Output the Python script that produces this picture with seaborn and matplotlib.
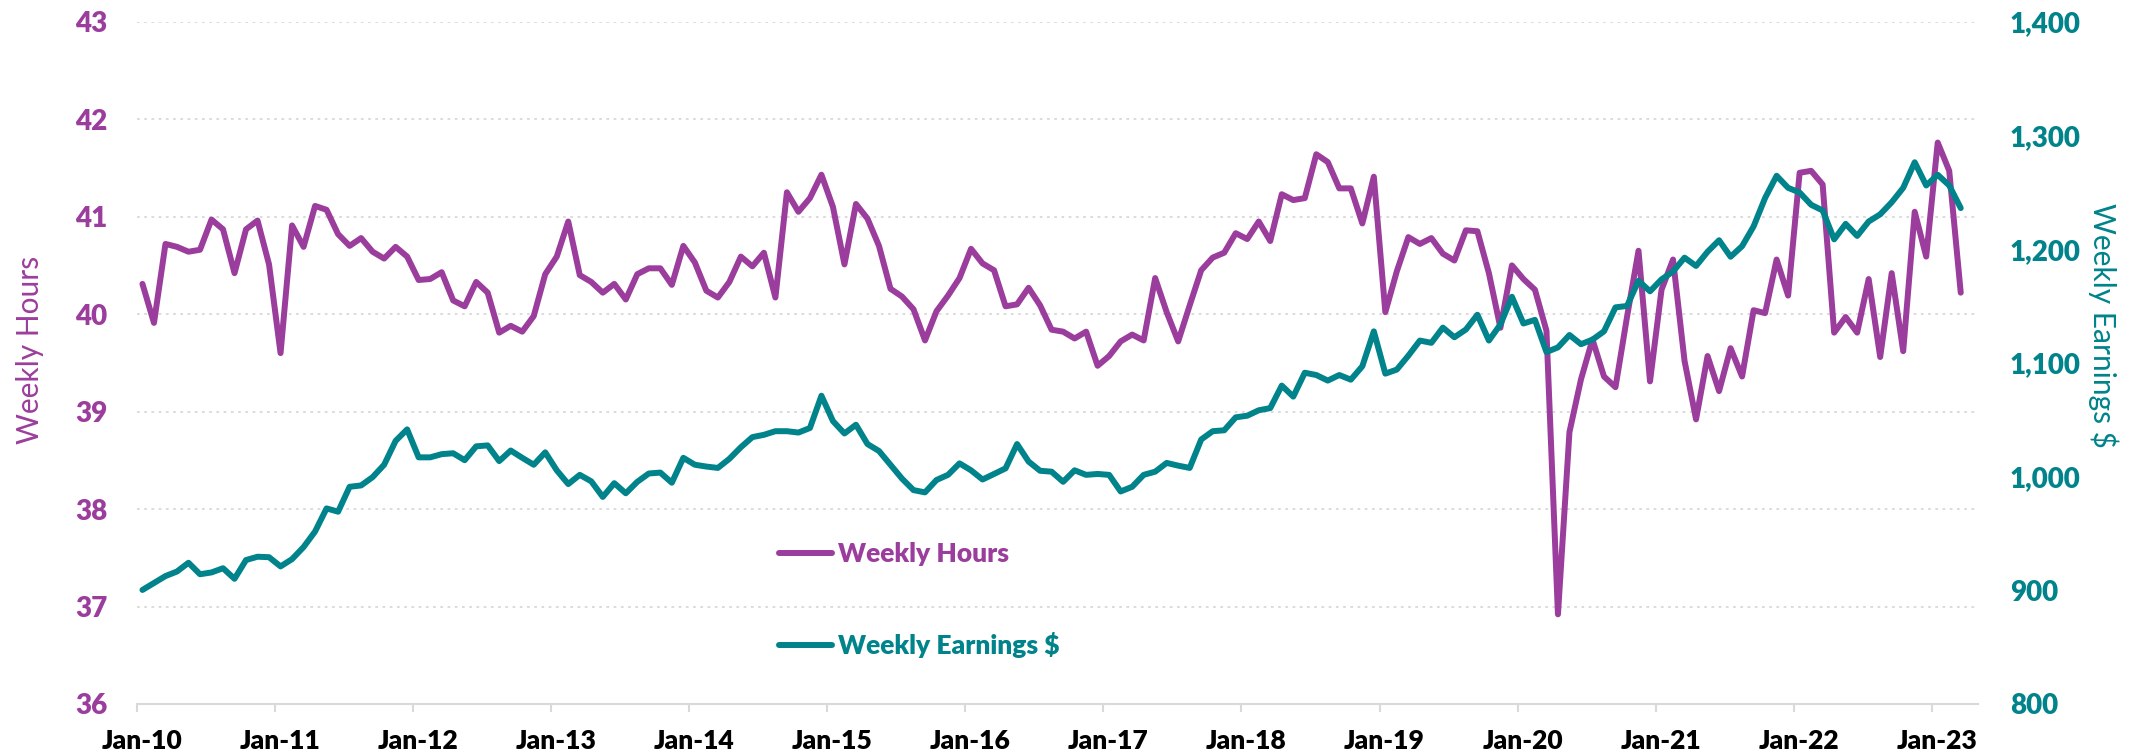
import numpy as np
import matplotlib
matplotlib.use("Agg")
import matplotlib.pyplot as plt
import matplotlib.transforms as mtransforms
import seaborn as sns
from matplotlib.ticker import FuncFormatter

# Monthly series, Jan-2010 .. Mar-2023
hours = [
    40.31, 39.91, 40.72, 40.69, 40.64, 40.66, 40.97, 40.87, 40.42, 40.87, 40.96, 40.51,
    39.60, 40.91, 40.69, 41.11, 41.07, 40.82, 40.70, 40.78, 40.64, 40.57, 40.69, 40.59,
    40.35, 40.36, 40.43, 40.14, 40.08, 40.33, 40.22, 39.81, 39.88, 39.82, 39.98, 40.41,
    40.59, 40.95, 40.40, 40.33, 40.22, 40.31, 40.15, 40.41, 40.47, 40.47, 40.30, 40.70,
    40.53, 40.24, 40.17, 40.33, 40.59, 40.49, 40.63, 40.17, 41.25, 41.05, 41.19, 41.43,
    41.10, 40.51, 41.13, 40.98, 40.70, 40.26, 40.18, 40.05, 39.73, 40.03, 40.19, 40.37,
    40.67, 40.52, 40.45, 40.08, 40.10, 40.27, 40.09, 39.84, 39.82, 39.75, 39.82, 39.47,
    39.57, 39.72, 39.79, 39.73, 40.37, 40.02, 39.72, 40.09, 40.45, 40.58, 40.63, 40.83,
    40.77, 40.95, 40.75, 41.23, 41.17, 41.19, 41.64, 41.56, 41.29, 41.29, 40.93, 41.41,
    40.02, 40.44, 40.79, 40.72, 40.78, 40.62, 40.55, 40.86, 40.85, 40.42, 39.86, 40.50,
    40.36, 40.25, 39.83, 36.92, 38.79, 39.33, 39.74, 39.36, 39.25, 39.97, 40.65, 39.31,
    40.25, 40.56, 39.52, 38.92, 39.57, 39.21, 39.65, 39.36, 40.04, 40.01, 40.56, 40.19,
    41.45, 41.47, 41.33, 39.81, 39.97, 39.81, 40.36, 39.56, 40.42, 39.62, 41.05, 40.59,
    41.76, 41.47, 40.22,
]

earnings = [
    900.3, 906.4, 912.5, 916.5, 924.2, 914.1, 915.7, 919.4, 910.1, 926.6, 929.5, 929.1,
    921.0, 927.4, 938.0, 951.7, 972.0, 969.1, 991.0, 992.2, 999.5, 1010.4, 1031.4, 1041.5,
    1016.9, 1016.9, 1019.7, 1020.5, 1014.4, 1026.6, 1027.4, 1013.6, 1022.9, 1016.5, 1010.4, 1021.3,
    1005.5, 993.4, 1001.5, 995.8, 982.1, 994.2, 985.3, 995.4, 1002.7, 1003.5, 994.6, 1016.5,
    1010.4, 1008.8, 1007.6, 1015.6, 1025.8, 1034.7, 1036.7, 1039.9, 1039.9, 1038.7, 1042.7, 1071.1,
    1048.8, 1037.9, 1045.6, 1028.6, 1022.5, 1010.4, 998.2, 988.1, 986.1, 997.0, 1001.5, 1011.6,
    1005.5, 997.4, 1002.3, 1007.2, 1028.6, 1013.2, 1005.1, 1004.3, 995.4, 1005.5, 1001.5, 1002.3,
    1001.5, 986.9, 991.0, 1001.5, 1004.3, 1012.0, 1009.6, 1007.6, 1032.6, 1039.9, 1040.7, 1052.1,
    1053.5, 1058.3, 1060.2, 1080.0, 1070.3, 1091.3, 1089.3, 1084.4, 1089.3, 1085.2, 1097.0, 1127.7,
    1090.5, 1094.1, 1106.3, 1119.6, 1117.6, 1131.0, 1122.5, 1129.3, 1142.3, 1119.6, 1133.8, 1158.1,
    1134.6, 1137.8, 1109.5, 1113.6, 1124.5, 1116.4, 1120.4, 1127.7, 1148.8, 1150.0, 1172.2, 1162.9,
    1173.4, 1180.3, 1192.5, 1185.2, 1197.7, 1207.8, 1193.3, 1202.6, 1220.0, 1245.0, 1264.5, 1253.9,
    1249.8, 1239.0, 1234.0, 1208.6, 1222.2, 1211.6, 1224.3, 1230.6, 1241.2, 1253.9, 1276.4, 1256.0,
    1265.4, 1256.0, 1236.1,
]

tick_labels = ["Jan-10", "Jan-11", "Jan-12", "Jan-13", "Jan-14", "Jan-15", "Jan-16",
               "Jan-17", "Jan-18", "Jan-19", "Jan-20", "Jan-21", "Jan-22", "Jan-23"]

PURPLE = "#9B3D9C"
TEAL = "#00838A"
GRID = "#D9D9D9"
HEAVY = "heavy"

sns.set_theme(style="white")
plt.rcParams["font.family"] = ["Lato", "DejaVu Sans"]

# points sit in the middle of each month slot
x = np.arange(len(hours)) + 0.5

W, H = 2138, 753
fig = plt.figure(figsize=(W / 100, H / 100), dpi=100)
ax = fig.add_axes([136.7 / W, 1 - 704 / H, (1978 - 136.7) / W, (704 - 21.7) / H])
ax2 = ax.twinx()

line_kw = dict(lw=4.3, solid_joinstyle="round", solid_capstyle="round")
sns.lineplot(x=x, y=hours, ax=ax, color=PURPLE, label="Weekly Hours", **line_kw)
sns.lineplot(x=x, y=earnings, ax=ax2, color=TEAL, label="Weekly Earnings $", **line_kw)

h1, l1 = ax.get_legend_handles_labels()
h2, l2 = ax2.get_legend_handles_labels()
ax.get_legend().remove()
ax2.get_legend().remove()

ax.set_xlim(0, 160)
ax.set_ylim(36, 43)
ax2.set_ylim(800, 1400)

# x axis
ax.set_xticks(np.arange(0, 12 * len(tick_labels), 12))
ax.set_xticklabels(tick_labels, fontweight=HEAVY, fontsize=19, color="black")
ax.tick_params(axis="x", bottom=True, length=6, width=1.5, color=GRID, pad=12)
nudge = mtransforms.ScaledTranslation(5 / 100, 0, fig.dpi_scale_trans)
for t in ax.get_xticklabels():
    t.set_transform(t.get_transform() + nudge)

# left axis
ax.set_yticks(range(36, 44))
ax.set_yticklabels([str(v) for v in range(36, 44)], fontweight=HEAVY)
ax.tick_params(axis="y", left=False, length=0, pad=21, labelsize=20, labelcolor=PURPLE)

# right axis
ax2.set_yticks(range(800, 1401, 100))
ax2.set_yticklabels([f"{v:,}" for v in range(800, 1401, 100)], fontweight=HEAVY)
ax2.tick_params(axis="y", right=False, length=0, pad=23, labelsize=20, labelcolor=TEAL)

# axis titles
fig.text(30 / W, 1 - 350 / H, "Weekly Hours", rotation=90, ha="center", va="center",
         fontsize=21.5, color=PURPLE)
fig.text(2103 / W, 1 - 325 / H, "Weekly Earnings $", rotation=270, ha="center", va="center",
         fontsize=21.5, color=TEAL)

# grid and spines
ax.grid(axis="y", color=GRID, linestyle=(0, (1.5, 2.5)), lw=1.3)
ax.grid(axis="x", visible=False)
ax2.grid(False)
for a in (ax, ax2):
    for s in ("top", "left", "right"):
        a.spines[s].set_visible(False)
ax2.spines["bottom"].set_visible(False)
ax.spines["bottom"].set_color(GRID)
ax.spines["bottom"].set_linewidth(1.5)

leg = ax2.legend(h1 + h2, l1 + l2, loc="center left",
                 bbox_to_anchor=(779 / W, 1 - 600 / H), bbox_transform=fig.transFigure,
                 frameon=False, borderpad=0, borderaxespad=0, handlelength=2.0,
                 handletextpad=0.25, labelspacing=2.5,
                 prop={"weight": HEAVY, "size": 19})
for t, c in zip(leg.get_texts(), [PURPLE, TEAL]):
    t.set_color(c)

fig.savefig("out.png", dpi=100)
